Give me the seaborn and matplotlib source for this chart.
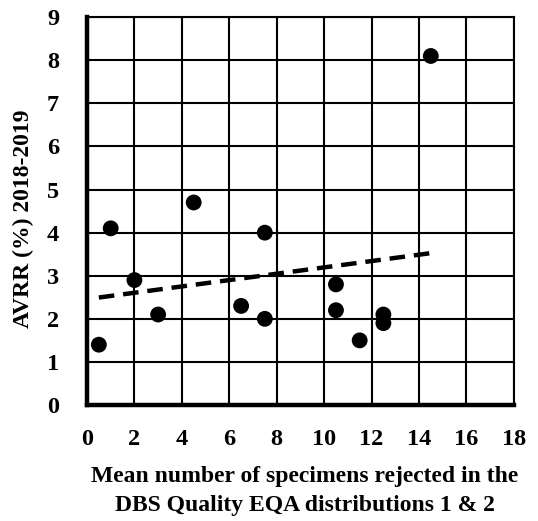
import numpy as np
import pandas as pd
import matplotlib
matplotlib.use("Agg")
import matplotlib.pyplot as plt
import seaborn as sns

mean_rejected = [0.5, 1, 2, 3, 4.5, 6.5, 7.5, 7.5, 10.5, 10.5, 11.5, 12.5, 12.5, 14.5]
avrr = [1.4, 4.1, 2.9, 2.1, 4.7, 2.3, 4.0, 2.0, 2.8, 2.2, 1.5, 2.1, 1.9, 8.1]
x_ticks = [0, 2, 4, 6, 8, 10, 12, 14, 16, 18]
y_ticks = [0, 1, 2, 3, 4, 5, 6, 7, 8, 9]

df = pd.DataFrame({"x": mean_rejected, "y": avrr})

sns.set_theme(style="white")
plt.rcParams['font.family'] = ['Liberation Serif', 'DejaVu Serif']
plt.rcParams['font.weight'] = 'bold'

fig = plt.figure(figsize=(5.38, 5.21), dpi=100)
ax = fig.add_axes([0.1617, 0.2226, 0.955 - 0.1617, 0.967 - 0.2226])

sns.regplot(data=df, x="x", y="y", ax=ax, ci=None, truncate=True,
            scatter_kws=dict(s=130, color="black", edgecolor="none", alpha=1, zorder=4),
            line_kws=dict(color="black", lw=3.2, linestyle=(0, (3.5, 2)), zorder=3))

ax.set_xlim(0, 18)
ax.set_ylim(0, 9)
ax.set_xticks(x_ticks)
ax.set_yticks(y_ticks)
ax.grid(True, color="black", lw=1.5, zorder=0)
ax.set_axisbelow(True)
for side in ["top", "right"]:
    ax.spines[side].set_color("black")
    ax.spines[side].set_linewidth(1.5)
for side in ["left", "bottom"]:
    ax.spines[side].set_color("black")
    ax.spines[side].set_linewidth(3.2)

ax.tick_params(axis="both", length=0, labelsize=17.5, colors="black")
ax.tick_params(axis="x", pad=17)
ax.tick_params(axis="y", pad=20)
for lab in ax.get_xticklabels() + ax.get_yticklabels():
    lab.set_fontweight("bold")

ax.set_xlabel("Mean number of specimens rejected in the\nDBS Quality EQA distributions 1 & 2",
              fontsize=17, fontweight="bold", color="black", linespacing=1.45)
ax.set_ylabel("AVRR (%) 2018-2019", fontsize=17, fontweight="bold", color="black")
ax.xaxis.set_label_coords(0.51, -0.158)
ax.yaxis.set_label_coords(-0.123, 0.48)

fig.savefig("out.png", dpi=100)
